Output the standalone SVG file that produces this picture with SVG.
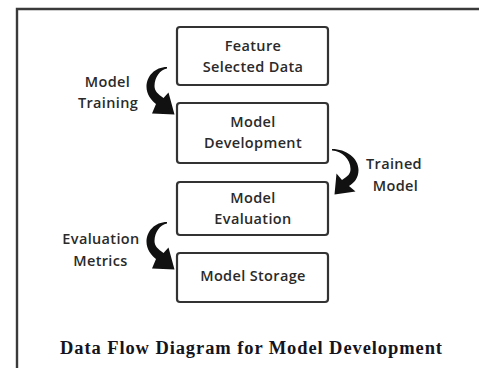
<svg xmlns="http://www.w3.org/2000/svg" width="479" height="368" viewBox="0 0 479 368">
  <style>
    .box { fill: #ffffff; stroke: #333333; stroke-width: 2.2; }
    .t { font-family: "Open Sans", "Liberation Sans", sans-serif; font-size: 14.5px; font-weight: 600; fill: #2a2a2a; text-anchor: middle; letter-spacing: 0.35px; }
    .arrow { fill: #111111; stroke: none; }
    .frame { fill: none; stroke: #3a3a3a; stroke-width: 2.4; }
    .cap { font-family: "Liberation Serif", "Times New Roman", serif; font-size: 18.5px; font-weight: bold; fill: #141420; text-anchor: middle; }
  </style>
  <rect width="479" height="368" fill="#ffffff"/>
  <path class="frame" d="M17,368 L17,9 L479,9"/>

  <g id="node-feature">
    <rect class="box" x="177" y="27" width="151" height="58" rx="3"/>
    <text class="t" x="253" y="51">Feature</text>
    <text class="t" x="253" y="72">Selected Data</text>
  </g>
  <g id="node-development">
    <rect class="box" x="177" y="103" width="151" height="60" rx="3"/>
    <text class="t" x="253" y="127">Model</text>
    <text class="t" x="253" y="148">Development</text>
  </g>
  <g id="node-evaluation">
    <rect class="box" x="177" y="182" width="151" height="53" rx="3"/>
    <text class="t" x="253" y="203">Model</text>
    <text class="t" x="253" y="224">Evaluation</text>
  </g>
  <g id="node-storage">
    <rect class="box" x="177" y="253" width="151" height="49" rx="3"/>
    <text class="t" x="253" y="281">Model Storage</text>
  </g>

  <g id="connectors">
    <path class="arrow" d="M167,67 C155,67 146.5,76 146.5,87 C146.5,94 151,100 156,104 L152,113.5 L174.5,114.5 L168.5,92.5 L163.5,98 C158,94 154.5,91 154.5,86 C154.5,77 160,70 167,68.5 Z"/>
    <path class="arrow" d="M332,149 C346,149 358.5,158 358.5,170 C358.5,178 354,183 349,186 L355.5,191.5 L334.5,194.5 L336.5,173.5 L342,180 C348,176 350.5,174 350.5,169 C350.5,159 342,151 332,150.5 Z"/>
    <path class="arrow" d="M167,222 C155,222 146.5,231 146.5,242 C146.5,249 151,255 156,259 L152,268.5 L174.5,269.5 L168.5,247.5 L163.5,253 C158,249 154.5,246 154.5,241 C154.5,232 160,225 167,223.5 Z"/>
    <g id="label-training">
      <text class="t" x="107.5" y="87">Model</text>
      <text class="t" x="108" y="108">Training</text>
    </g>
    <g id="label-trained">
      <text class="t" x="394" y="169">Trained</text>
      <text class="t" x="395.5" y="191">Model</text>
    </g>
    <g id="label-metrics">
      <text class="t" x="101" y="244">Evaluation</text>
      <text class="t" x="100.5" y="266">Metrics</text>
    </g>
  </g>

  <text class="cap" x="251" y="354" textLength="382" lengthAdjust="spacing">Data Flow Diagram for Model Development</text>
</svg>
